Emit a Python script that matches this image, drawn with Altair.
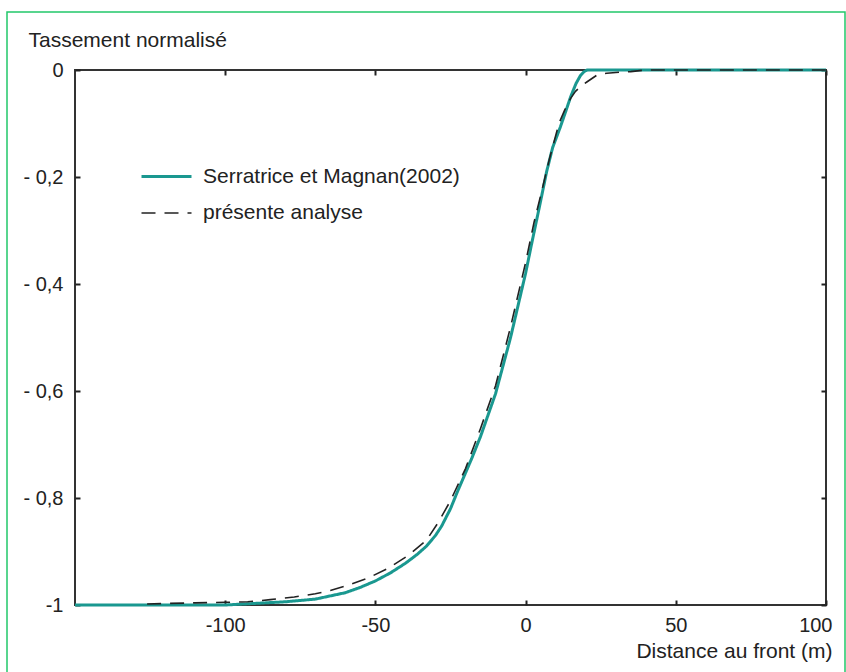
import altair as alt
import pandas as pd

# ---- data ----
S1 = "Serratrice et Magnan(2002)"
S2 = "présente analyse"

ref_x = [-150, -100, -90, -80, -70, -60, -55, -50, -45, -40, -36, -33, -30, -28, -25,
         -22.6, -18, -15, -10, -5, 0, 2, 5, 7, 9, 11.6, 13.5, 15, 16.8, 18.3, 19.5,
         20.5, 100]
ref_y = [-1, -1, -0.997, -0.994, -0.989, -0.977, -0.967, -0.955, -0.94, -0.922, -0.905,
         -0.89, -0.87, -0.853, -0.82, -0.787, -0.727, -0.685, -0.605, -0.5, -0.38,
         -0.325, -0.245, -0.19, -0.145, -0.106, -0.075, -0.05, -0.025, -0.01, -0.003,
         0, 0]

ana_x = [-126, -110, -100, -92.5, -85, -77, -70, -65, -59, -52.6, -45.6, -39, -33, -29,
         -25, -20, -15, -10, -5, 0, 2.8, 5, 8, 11.1, 13, 15, 16.6, 18.5, 20.5, 23.9, 27,
         31.6, 35, 40, 100]
ana_y = [-0.998, -0.996, -0.995, -0.994, -0.99, -0.985, -0.979, -0.973, -0.963, -0.95,
         -0.931, -0.907, -0.879, -0.845, -0.805, -0.745, -0.67, -0.59, -0.48, -0.36,
         -0.285, -0.235, -0.165, -0.1, -0.075, -0.053, -0.04, -0.03, -0.022, -0.009,
         -0.006, -0.004, -0.003, 0, 0]

x_ticks = [-100, -50, 0, 50, 100]
y_ticks = [0, -0.2, -0.4, -0.6, -0.8, -1]

df = pd.concat([
    pd.DataFrame({"x": ref_x, "y": ref_y, "series": S1}),
    pd.DataFrame({"x": ana_x, "y": ana_y, "series": S2}),
], ignore_index=True)

FONT = "Liberation Sans"
TXT = "#222222"
TEAL = "#1a9890"

xscale = alt.Scale(domain=[-150, 100], nice=False, zero=False)
yscale = alt.Scale(domain=[-1, 0], nice=False, zero=False)

y_label_expr = ("datum.value == 0 ? '0' : (datum.value <= -0.999 ? '-1' : "
                "'- ' + replace(format(-datum.value, '.1f'), '.', ','))")

x_axis_main = alt.Axis(orient="bottom", values=x_ticks, offset=-5, tickSize=5,
                       tickWidth=2, tickColor=TXT, domain=False, grid=False,
                       labelExpr="'' + datum.value", labelPadding=10,
                       labelFlush=True, labelFlushOffset=6,
                       title="Distance au front (m)", titleAlign="right",
                       titleAnchor="end", titleX=757, titleY=57,
                       titleBaseline="alphabetic")
y_axis_main = alt.Axis(orient="left", values=y_ticks, offset=-5, tickSize=5,
                       tickWidth=2, tickColor=TXT, domain=False, grid=False,
                       labelExpr=y_label_expr, labelPadding=12, labelFlush=False,
                       labelBaseline="middle",
                       title="Tassement normalisé", titleAngle=0, titleAlign="left",
                       titleBaseline="alphabetic", titleX=-52, titleY=-24)

x_axis_top = alt.Axis(orient="top", values=x_ticks, offset=-5, tickSize=5,
                      tickWidth=2, tickColor=TXT, domain=False, grid=False,
                      labels=False, title="")
y_axis_right = alt.Axis(orient="right", values=y_ticks, offset=-5, tickSize=5,
                        tickWidth=2, tickColor=TXT, domain=False, grid=False,
                        labels=False, title="")

legend = alt.Legend(title=None, orient="none", legendX=65, legendY=80,
                    symbolType="stroke", symbolSize=2500, labelOffset=10,
                    labelFontSize=21, labelFont=FONT, labelColor=TXT,
                    labelLimit=500, rowPadding=0)

lines = alt.Chart(df).mark_line(strokeCap="butt").encode(
    x=alt.X("x:Q", scale=xscale, axis=x_axis_main),
    y=alt.Y("y:Q", scale=yscale, axis=y_axis_main),
    color=alt.Color("series:N", scale=alt.Scale(domain=[S1, S2], range=[TEAL, TXT]),
                    legend=legend),
    strokeDash=alt.StrokeDash("series:N",
                              scale=alt.Scale(domain=[S1, S2], range=[[1, 0], [14, 9]]),
                              legend=legend),
    strokeWidth=alt.StrokeWidth("series:N",
                                scale=alt.Scale(domain=[S1, S2], range=[3, 1.6]),
                                legend=legend),
    order=alt.Order("x:Q"),
)

frame_axes = alt.Chart(df).mark_point(opacity=0).encode(
    x=alt.X("x:Q", scale=xscale, axis=x_axis_top),
    y=alt.Y("y:Q", scale=yscale, axis=y_axis_right),
)

border = alt.Chart(pd.DataFrame({"a": [0]})).mark_rect(
    filled=False, stroke="#22c76a", strokeWidth=1.5
).encode(x=alt.value(-68), x2=alt.value(770), y=alt.value(-58), y2=alt.value(640))

chart = alt.layer(border, lines, frame_axes).resolve_axis(
    x="independent", y="independent"
).properties(
    width=751, height=535,
    autosize=alt.AutoSizeParams(type="none"),
    padding={"left": 75, "top": 70, "right": 20, "bottom": 67},
    background="white",
).configure_view(
    stroke="#333333", strokeWidth=2
).configure_axis(
    labelFont=FONT, labelFontSize=20, labelColor=TXT,
    titleFont=FONT, titleFontSize=21, titleColor=TXT, titleFontWeight="normal",
)

chart.save("out.html", embed_options={"renderer": "svg", "actions": False})
